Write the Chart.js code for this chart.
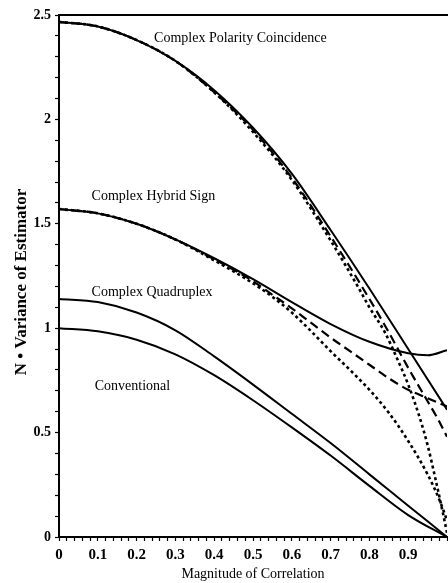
<!doctype html>
<html lang="en">
<head>
<meta charset="utf-8">
<title>Variance of complex correlation estimators</title>
<script src="https://cdn.jsdelivr.net/npm/chart.js@4.4.1/dist/chart.umd.min.js"></script>
<style>
  html, body { margin: 0; padding: 0; background: #fff; overflow: hidden; }
  canvas { display: block; }
</style>
</head>
<body>
<canvas id="varChart" width="452" height="583"></canvas>
<script>
// magnitude of correlation for the theory curves
var rho = [0, 0.1, 0.2, 0.3, 0.4, 0.5, 0.6, 0.7, 0.8, 0.9, 1.0];

// theory curves (solid)
var polarityTheory = [2.467, 2.445, 2.38, 2.28, 2.14, 1.96, 1.74, 1.47, 1.19, 0.90, 0.61];
var quadruplexTheory = [1.14, 1.125, 1.075, 0.99, 0.865, 0.73, 0.59, 0.45, 0.30, 0.15, 0.0];
var conventionalTheory = [1.0, 0.985, 0.945, 0.875, 0.775, 0.655, 0.525, 0.39, 0.245, 0.105, 0.0];
var hybridRho = [0, 0.1, 0.2, 0.3, 0.4, 0.5, 0.6, 0.7, 0.8, 0.9, 0.95, 1.0];
var hybridTheory = [1.571, 1.55, 1.50, 1.425, 1.335, 1.235, 1.125, 1.02, 0.935, 0.88, 0.87, 0.895];

// polarity coincidence, dashed and dotted variants
var polarityDashRho = [0, 0.1, 0.2, 0.3, 0.4, 0.5, 0.6, 0.7, 0.8, 0.85, 0.9, 0.95, 0.975, 1.0];
var polarityDash = [2.467, 2.445, 2.38, 2.28, 2.13, 1.95, 1.72, 1.44, 1.14, 0.98, 0.81, 0.65, 0.57, 0.48];
var polarityDotRho = [0, 0.1, 0.2, 0.3, 0.4, 0.5, 0.6, 0.7, 0.77, 0.8, 0.84, 0.87, 0.9, 0.93, 0.95, 0.97, 0.99, 1.0];
var polarityDot = [2.467, 2.445, 2.38, 2.28, 2.13, 1.94, 1.71, 1.42, 1.20, 1.10, 0.98, 0.86, 0.73, 0.57, 0.44, 0.28, 0.11, 0.02];

// hybrid sign, dashed and dotted variants
var hybridDashRho = [0, 0.1, 0.2, 0.3, 0.4, 0.5, 0.55, 0.6, 0.65, 0.7, 0.75, 0.8, 0.85, 0.9, 0.95, 1.0];
var hybridDash = [1.571, 1.55, 1.50, 1.425, 1.33, 1.225, 1.16, 1.095, 1.025, 0.955, 0.89, 0.825, 0.76, 0.705, 0.665, 0.625];
var hybridDotRho = [0, 0.1, 0.2, 0.3, 0.4, 0.5, 0.55, 0.6, 0.65, 0.7, 0.75, 0.8, 0.85, 0.9, 0.95, 0.98, 1.0];
var hybridDot = [1.571, 1.55, 1.50, 1.425, 1.325, 1.215, 1.15, 1.075, 0.985, 0.89, 0.80, 0.705, 0.595, 0.46, 0.30, 0.18, 0.08];

// curve names and where they sit (data units)
var curveNames = ['Complex Polarity Coincidence', 'Complex Hybrid Sign', 'Complex Quadruplex', 'Conventional'];
var nameAt = [[0.245, 2.388], [0.084, 1.632], [0.084, 1.172], [0.092, 0.722]];

var serif = "'Liberation Serif', 'DejaVu Serif', serif";

function toPoints(xs, ys) {
  var pts = [];
  for (var i = 0; i < xs.length; i++) pts.push({ x: xs[i], y: ys[i] });
  return pts;
}

function series(xs, ys, dash, width) {
  return {
    data: toPoints(xs, ys),
    borderColor: '#000',
    borderWidth: width || 2,
    borderDash: dash || [],
    cubicInterpolationMode: 'monotone',
    pointRadius: 0,
    fill: false
  };
}

var DASHED = [9, 5];
var DOTTED = [3, 3];

// top frame line, y title and the curve names
var labelsPlugin = {
  id: 'curveLabels',
  afterDatasetsDraw: function(chart) {
    var ctx = chart.ctx;
    var area = chart.chartArea;
    var xs = chart.scales.x, ys = chart.scales.y;
    ctx.save();
    ctx.strokeStyle = '#000';
    ctx.lineWidth = 2;
    ctx.beginPath();
    ctx.moveTo(area.left, area.top);
    ctx.lineTo(chart.width, area.top);
    ctx.stroke();

    ctx.fillStyle = '#000';
    ctx.font = '14px ' + serif;
    ctx.textAlign = 'left';
    ctx.textBaseline = 'middle';
    for (var i = 0; i < curveNames.length; i++) {
      ctx.fillText(curveNames[i], xs.getPixelForValue(nameAt[i][0]), ys.getPixelForValue(nameAt[i][1]));
    }

    // vertical axis title
    ctx.translate(22, (area.top + area.bottom) / 2 + 6);
    ctx.rotate(-Math.PI / 2);
    ctx.textAlign = 'center';
    ctx.font = 'bold 17px ' + serif;
    ctx.fillText('N \u2022 Variance of Estimator', 0, 0);
    ctx.restore();
  }
};

var ctx = document.getElementById('varChart').getContext('2d');
var chart = new Chart(ctx, {
  type: 'line',
  data: {
    datasets: [
      series(rho, polarityTheory),
      series(polarityDashRho, polarityDash, DASHED, 2.2),
      series(polarityDotRho, polarityDot, DOTTED, 2.6),
      series(hybridRho, hybridTheory),
      series(hybridDashRho, hybridDash, DASHED, 2.2),
      series(hybridDotRho, hybridDot, DOTTED, 2.6),
      series(rho, quadruplexTheory),
      series(rho, conventionalTheory)
    ]
  },
  options: {
    responsive: false,
    devicePixelRatio: 1,
    animation: false,
    layout: { padding: { top: 15, right: 1, left: 0, bottom: 0 } },
    plugins: {
      legend: { display: false },
      tooltip: { enabled: false }
    },
    scales: {
      x: {
        type: 'linear',
        min: 0,
        max: 1,
        afterFit: function(scale) { scale.height = 46; },
        border: { display: true, color: '#000', width: 2 },
        grid: { drawOnChartArea: false, drawTicks: true, tickLength: 4, tickColor: '#000', tickWidth: 1.2 },
        ticks: {
          stepSize: 0.02,
          maxTicksLimit: 100,
          autoSkip: false,
          maxRotation: 0,
          padding: 5,
          color: '#000',
          font: { family: serif, size: 15, weight: 'bold' },
          callback: function(v) {
            var r = Math.round(v * 10);
            if (Math.abs(v * 10 - r) < 1e-6 && r < 10) return r === 0 ? '0' : (r / 10).toString();
            return '';
          }
        },
        title: {
          display: true,
          text: 'Magnitude of Correlation',
          color: '#000',
          font: { family: serif, size: 14 },
          padding: { top: 0, bottom: 0 }
        }
      },
      y: {
        min: 0,
        max: 2.5,
        afterFit: function(scale) { scale.width = 59; },
        border: { display: true, color: '#000', width: 2 },
        grid: { drawOnChartArea: false, drawTicks: true, tickLength: 4, tickColor: '#000', tickWidth: 1.2 },
        ticks: {
          stepSize: 0.1,
          maxTicksLimit: 100,
          autoSkip: false,
          padding: 4,
          color: '#000',
          font: { family: serif, size: 14, weight: 'bold' },
          callback: function(v) {
            var h = Math.round(v * 2);
            if (Math.abs(v * 2 - h) < 1e-6) return (h / 2).toString();
            return '';
          }
        }
      }
    }
  },
  plugins: [labelsPlugin]
});
</script>
</body>
</html>
